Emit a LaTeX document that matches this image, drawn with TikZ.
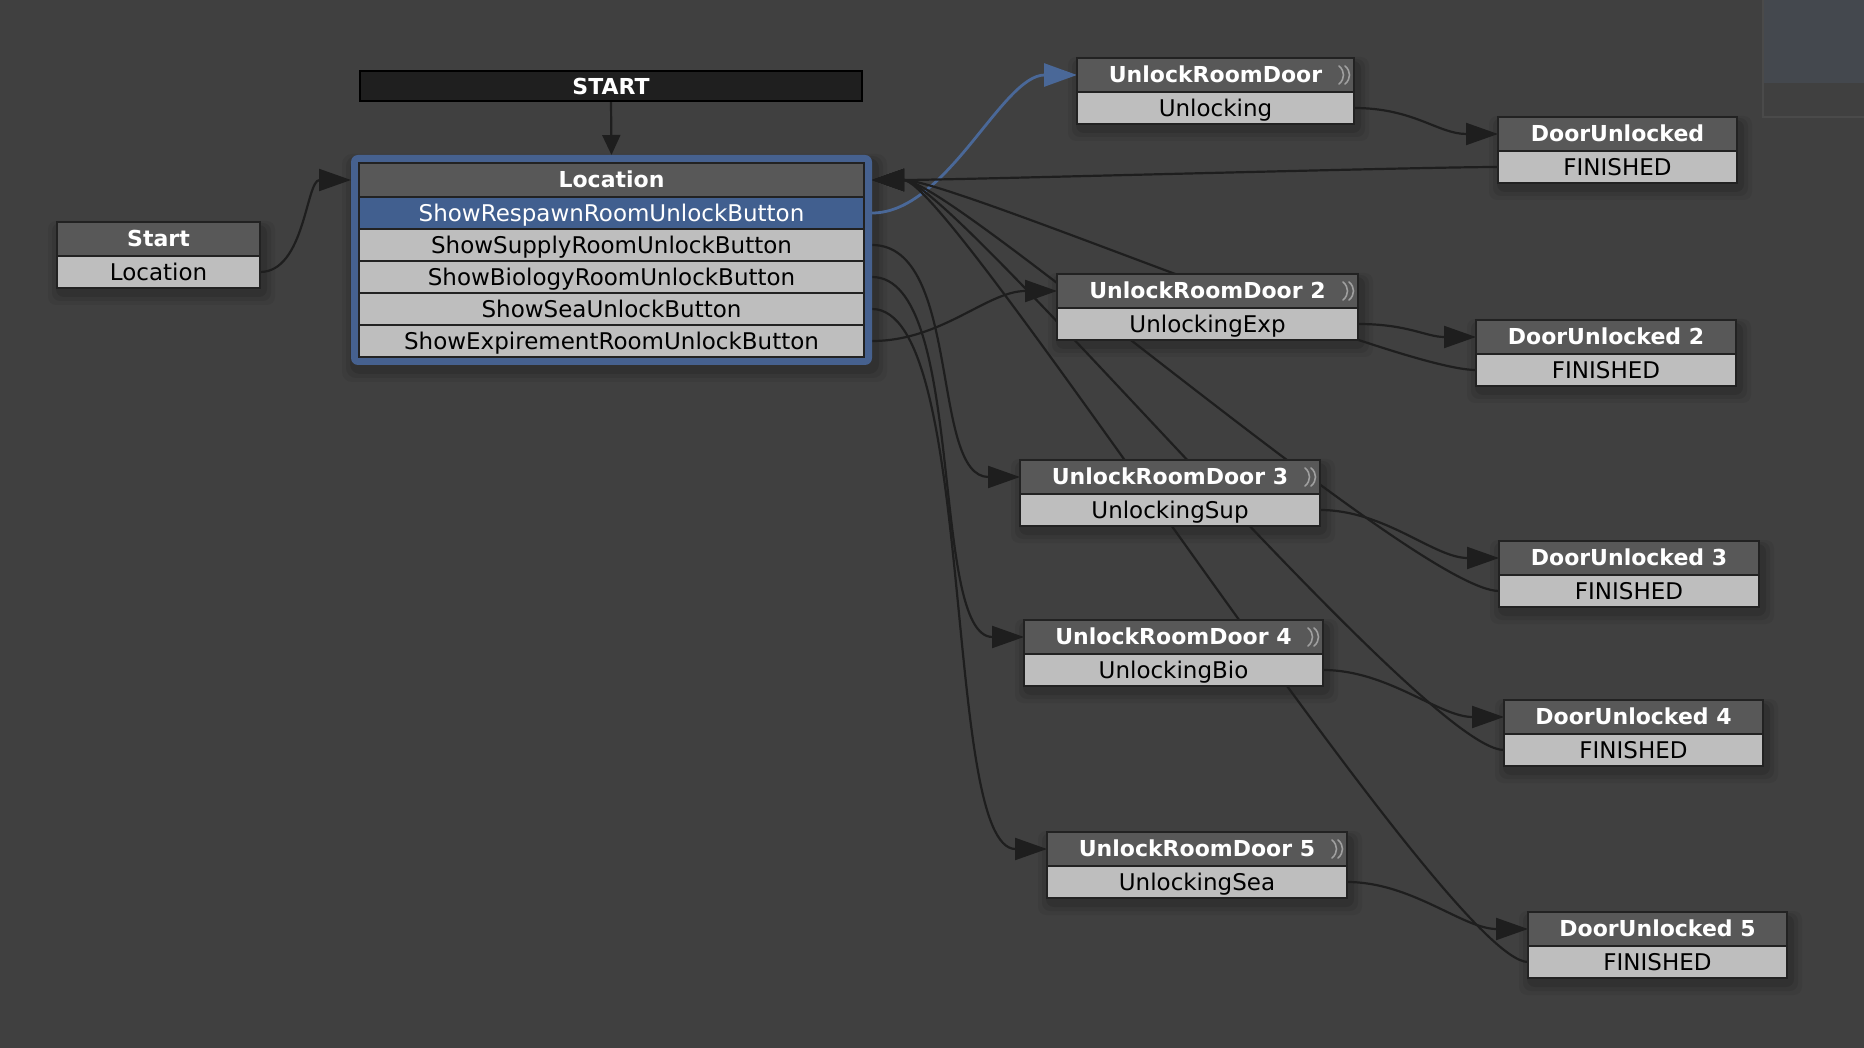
\documentclass[tikz,border=0pt]{standalone}
\usepackage{fontspec}
\setmainfont{DejaVu Sans}
\usetikzlibrary{arrows.meta,calc}
\definecolor{bgc}{HTML}{404040}
\definecolor{hdrc}{HTML}{585858}
\definecolor{rowc}{HTML}{BEBEBE}
\definecolor{edgec}{HTML}{1E1E1E}
\definecolor{bordc}{HTML}{222222}
\definecolor{framec}{HTML}{46618F}
\definecolor{selc}{HTML}{415F8F}
\definecolor{bluec}{HTML}{4A6898}
\definecolor{startc}{HTML}{1F1F1F}
\definecolor{panelc}{HTML}{44484E}
\definecolor{panelb}{HTML}{4A4A4A}
\definecolor{iconc}{HTML}{A0A0A0}
\pgfdeclarelayer{bg}
\pgfdeclarelayer{edges}
\pgfsetlayers{bg,edges,main}
\tikzset{
  hdr/.style={draw=bordc, fill=hdrc, line width=2pt, inner sep=0pt, outer sep=0pt,
    minimum height=34pt, text height=18.5pt, text depth=3.5pt, text=white,
    font=\fontsize{22}{24}\selectfont\bfseries, anchor=north west},
  rowst/.style={draw=bordc, fill=rowc, line width=2pt, inner sep=0pt, outer sep=0pt,
    minimum height=32pt, text height=19pt, text depth=2.5pt, text=black,
    font=\fontsize{23}{24}\selectfont, anchor=north west},
  selrow/.style={rowst, fill=selc, text=white},
  conn/.style={draw=edgec, line width=2.2pt, -{Triangle[length=32pt,width=22pt]}},
  bconn/.style={draw=bluec, line width=2.8pt, -{Triangle[length=33pt,width=23pt]}},
  icon/.style={draw=iconc, line width=1.6pt, line cap=round},
}
% name, x, y, width, header, row
\newcommand\fsmstate[6]{%
  \begin{pgfonlayer}{bg}
    \foreach \s/\o in {12/0.05, 8/0.07, 4/0.10}{
      \fill[black, opacity=\o, rounded corners=8pt]
        (#2+3-\s, #3+5-0.5*\s) rectangle (#2+#4+3+\s, #3+66+5+\s);
    }
  \end{pgfonlayer}
  \node[hdr, minimum width=#4pt] (#1h) at (#2,#3) {#5};
  \node[rowst, minimum width=#4pt] (#1r) at (#1h.south west) {#6};
}
\newcommand\fsmicon[1]{%
  \draw[icon] ([xshift=-15pt,yshift=9pt]#1h.east) .. controls ([xshift=-9pt,yshift=4pt]#1h.east) and ([xshift=-9pt,yshift=-4pt]#1h.east) .. ([xshift=-15pt,yshift=-9pt]#1h.east);
  \draw[icon] ([xshift=-9pt,yshift=9pt]#1h.east) .. controls ([xshift=-3pt,yshift=4pt]#1h.east) and ([xshift=-3pt,yshift=-4pt]#1h.east) .. ([xshift=-9pt,yshift=-9pt]#1h.east);
}
\begin{document}
\begin{tikzpicture}[x=1pt,y=-1pt]
\useasboundingbox (0,0) rectangle (1864,1048);
\begin{pgfonlayer}{bg}
  \fill[bgc] (0,0) rectangle (1864,1048);
  \fill[panelc] (1762,0) rectangle (1864,83);
  \draw[panelb, line width=1.5pt] (1762.75,0) -- (1762.75,117) -- (1870,117);
\end{pgfonlayer}

% START bar
\node[draw=black, fill=startc, line width=2pt, inner sep=0pt, outer sep=0pt,
  minimum width=502pt, minimum height=30pt, anchor=north west, text=white,
  font=\fontsize{22}{24}\selectfont\bfseries, text height=19pt, text depth=1pt]
  (startbar) at (360,71) {START};

% Location block
\begin{pgfonlayer}{bg}
  \foreach \s/\o in {12/0.05, 8/0.07, 4/0.10}{
    \fill[black, opacity=\o, rounded corners=10pt]
      (351+3-\s, 155+5-0.5*\s) rectangle (872+3+\s, 365+5+\s);
  }
\end{pgfonlayer}
\node[fill=framec, rounded corners=7pt, inner sep=0pt, outer sep=0pt,
  minimum width=521pt, minimum height=210pt, anchor=north west] (locfr) at (351,155) {};
\node[hdr, minimum width=505pt] (loch) at (359,163) {Location};
\node[selrow, minimum width=505pt] (locr1) at (loch.south west) {ShowRespawnRoomUnlockButton};
\node[rowst, minimum width=505pt] (locr2) at (locr1.south west) {ShowSupplyRoomUnlockButton};
\node[rowst, minimum width=505pt] (locr3) at (locr2.south west) {ShowBiologyRoomUnlockButton};
\node[rowst, minimum width=505pt] (locr4) at (locr3.south west) {ShowSeaUnlockButton};
\node[rowst, minimum width=505pt] (locr5) at (locr4.south west) {ShowExpirementRoomUnlockButton};

% states
\fsmstate{st}{57}{222}{203}{Start}{Location}
\fsmstate{u1}{1077}{58}{277}{UnlockRoomDoor}{Unlocking}
\fsmstate{d1}{1498}{117}{239}{DoorUnlocked}{FINISHED}
\fsmstate{u2}{1057}{274}{301}{UnlockRoomDoor 2}{UnlockingExp}
\fsmstate{d2}{1476}{320}{260}{DoorUnlocked 2}{FINISHED}
\fsmstate{u3}{1020}{460}{300}{UnlockRoomDoor 3}{UnlockingSup}
\fsmstate{d3}{1499}{541}{260}{DoorUnlocked 3}{FINISHED}
\fsmstate{u4}{1024}{620}{299}{UnlockRoomDoor 4}{UnlockingBio}
\fsmstate{d4}{1504}{700}{259}{DoorUnlocked 4}{FINISHED}
\fsmstate{u5}{1047}{832}{300}{UnlockRoomDoor 5}{UnlockingSea}
\fsmstate{d5}{1528}{912}{259}{DoorUnlocked 5}{FINISHED}

\fsmicon{u1}
\fsmicon{u2}
\fsmicon{u3}
\fsmicon{u4}
\fsmicon{u5}

% connectors
\begin{pgfonlayer}{edges}
  \draw[draw=edgec, line width=2.2pt, -{Triangle[length=20pt,width=18pt]}] (startbar.south) -- (locfr.north);
  \draw[conn] (str.east) .. controls +(45,0) and +(-45,0) .. (locfr.west |- loch.west);
  \draw[bconn] (locfr.east |- locr1.east) .. controls +(75,0) and +(-75,0) .. (u1h.west);
  \draw[conn] (locfr.east |- locr2.east) .. controls +(90,0) and +(-90,0) .. (u3h.west);
  \draw[conn] (locfr.east |- locr3.east) .. controls +(95,0) and +(-95,0) .. (u4h.west);
  \draw[conn] (locfr.east |- locr4.east) .. controls +(105,0) and +(-105,0) .. (u5h.west);
  \draw[conn] (locfr.east |- locr5.east) .. controls +(70,0) and +(-70,0) .. (u2h.west);
  \draw[conn] (u1r.east) .. controls +(60,0) and +(-60,0) .. (d1h.west);
  \draw[conn] (u2r.east) .. controls +(50,0) and +(-50,0) .. (d2h.west);
  \draw[conn] (u3r.east) .. controls +(65,0) and +(-65,0) .. (d3h.west);
  \draw[conn] (u4r.east) .. controls +(65,0) and +(-65,0) .. (d4h.west);
  \draw[conn] (u5r.east) .. controls +(65,0) and +(-65,0) .. (d5h.west);
  \draw[conn] (d1r.west) .. controls +(-80,0) and +(80,0) .. (locfr.east |- loch.east);
  \draw[conn] (d2r.west) .. controls +(-80,0) and +(80,0) .. (locfr.east |- loch.east);
  \draw[conn] (d3r.west) .. controls +(-80,0) and +(80,0) .. (locfr.east |- loch.east);
  \draw[conn] (d4r.west) .. controls +(-80,0) and +(80,0) .. (locfr.east |- loch.east);
  \draw[conn] (d5r.west) .. controls +(-80,0) and +(80,0) .. (locfr.east |- loch.east);
\end{pgfonlayer}
\end{tikzpicture}
\end{document}
